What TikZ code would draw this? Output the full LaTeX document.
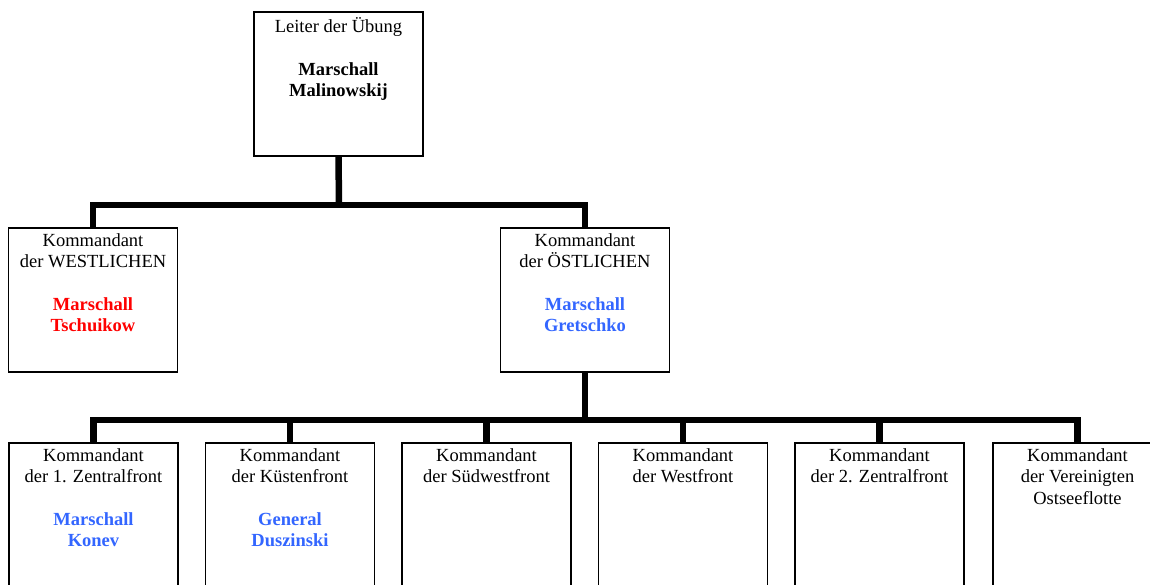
\documentclass[tikz,border=0pt]{standalone}
\usepackage{fontspec}
\setmainfont{Liberation Serif}
\usetikzlibrary{calc}
\definecolor{nred}{RGB}{255,0,0}
\definecolor{nblue}{RGB}{51,102,255}
\newcommand\nmblue[1]{\textbf{\textcolor{nblue}{#1}}}
\newcommand\nmred[1]{\textbf{\textcolor{nred}{#1}}}
\tikzset{
 box/.style={draw=black, line width=1.5pt, minimum width=169pt, minimum height=144pt, inner sep=0pt, outer sep=0pt, fill=white},
 txt/.style={anchor=north, align=center, inner sep=0pt, font=\fontsize{18.5}{21.3}\selectfont},
 conn/.style={line width=6.5pt, line join=miter},
}
\begin{document}
\begin{tikzpicture}[x=1pt,y=-1pt]
\useasboundingbox (0,0) rectangle (1150,584);
\clip (0,0) rectangle (1150,584);
% boxes
\node[box] (top) at (338.5,84) {};
\node[box] (west) at (93,300) {};
\node[box] (ost) at (585,300) {};
\node[box] (b1) at (93.5,515) {};
\node[box] (b2) at (290,515) {};
\node[box] (b3) at (486.5,515) {};
\node[box] (b4) at (683,515) {};
\node[box] (b5) at (879.5,515) {};
\node[box] (b6) at (1077.5,515) {};
% buses
\coordinate (bus1) at (339,205);
\coordinate (bus2) at (585,420);
\draw[conn] (top.south) -- (bus1);
\draw[conn] (west.north) |- (bus1);
\draw[conn] (ost.north) |- (bus1);
\draw[conn] (ost.south) -- (bus2);
\foreach \b in {b1,b2,b3,b4,b5,b6} {\draw[conn] (\b.north) |- (bus2);}
% texts
\node[txt] (topT) at ($(top.north)+(0,5.5)$) {Leiter der Übung\\[21.3pt]\textbf{Marschall}\\\textbf{Malinowskij}};
\node[txt] (westT) at ($(west.north)+(0,5.5)$) {Kommandant\\der WESTLICHEN\\[21.3pt]\nmred{Marschall}\\\nmred{Tschuikow}};
\node[txt] (ostT) at ($(ost.north)+(0,5.5)$) {Kommandant\\der ÖSTLICHEN\\[21.3pt]\nmblue{Marschall}\\\nmblue{Gretschko}};
\node[txt] (b1T) at ($(b1.north)+(0,5.5)$) {Kommandant\\der 1. Zentralfront\\[21.3pt]\nmblue{Marschall}\\\nmblue{Konev}};
\node[txt] (b2T) at ($(b2.north)+(0,5.5)$) {Kommandant\\der Küstenfront\\[21.3pt]\nmblue{General}\\\nmblue{Duszinski}};
\node[txt] (b3T) at ($(b3.north)+(0,5.5)$) {Kommandant\\der Südwestfront};
\node[txt] (b4T) at ($(b4.north)+(0,5.5)$) {Kommandant\\der Westfront};
\node[txt] (b5T) at ($(b5.north)+(0,5.5)$) {Kommandant\\der 2. Zentralfront};
\node[txt] (b6T) at ($(b6.north)+(0,5.5)$) {Kommandant\\der Vereinigten\\Ostseeflotte};
\end{tikzpicture}
\end{document}
